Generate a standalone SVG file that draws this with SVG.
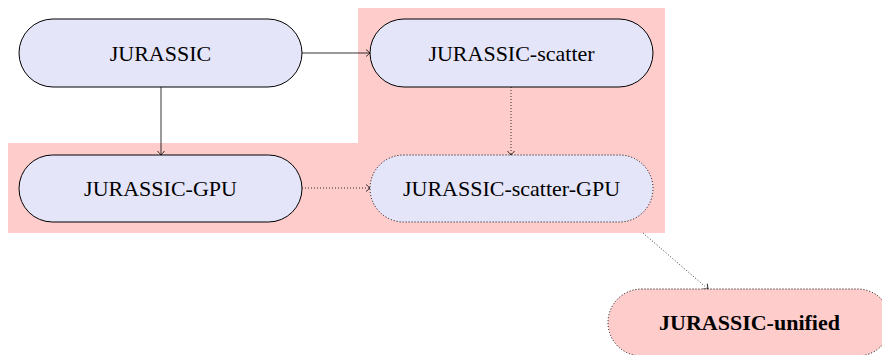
<svg xmlns="http://www.w3.org/2000/svg" width="882" height="355" viewBox="0 0 882 355">
<defs>
<style>
.node{fill:#e5e5fa;stroke:#000;stroke-width:1}
.dot{stroke-dasharray:1 2}
.lbl{font-family:"Liberation Serif","Times New Roman",serif;font-size:22px;text-anchor:middle;fill:#000}
.edge{fill:none;stroke:#000;stroke-width:0.8}
</style>
<marker id="to" viewBox="-5 -5 10 10" markerWidth="10" markerHeight="10" refX="0" refY="0" orient="auto" markerUnits="userSpaceOnUse">
<path d="M-4,-3.5 Q-1,-1 0,0 Q-1,1 -4,3.5" fill="none" stroke="#000" stroke-width="0.8"/>
</marker>
</defs>
<g id="background">
<path d="M358,8 H665 V233 H8 V143 H358 Z" fill="#ffcccc"/>
</g>
<g id="connectors">
<line class="edge" x1="302" y1="53" x2="370" y2="53" marker-end="url(#to)"/>
<line class="edge" x1="161" y1="87" x2="161" y2="155" marker-end="url(#to)"/>
<line class="edge dot" x1="511" y1="87" x2="511" y2="155" marker-end="url(#to)"/>
<line class="edge dot" x1="302" y1="188" x2="370" y2="188" marker-end="url(#to)"/>
<line class="edge dot" x1="643" y1="233" x2="708" y2="289" marker-end="url(#to)"/>
</g>
<g id="n-jurassic">
<rect class="node" x="19" y="19" width="283" height="68" rx="34" ry="34"/>
<text class="lbl" x="160.5" y="61">JURASSIC</text>
</g>
<g id="n-scatter">
<rect class="node" x="370" y="19" width="283" height="68" rx="34" ry="34"/>
<text class="lbl" x="511.5" y="61">JURASSIC-scatter</text>
</g>
<g id="n-gpu">
<rect class="node" x="19" y="155" width="283" height="67" rx="33.5" ry="33.5"/>
<text class="lbl" x="160.5" y="196">JURASSIC-GPU</text>
</g>
<g id="n-scatter-gpu">
<rect class="node dot" x="370" y="155" width="283" height="67" rx="33.5" ry="33.5"/>
<text class="lbl" x="511.5" y="196">JURASSIC-scatter-GPU</text>
</g>
<g id="n-unified">
<rect class="node dot" x="608" y="289" width="283" height="67" rx="33.5" ry="33.5" style="fill:#ffcccc"/>
<text class="lbl" x="749.5" y="330" font-weight="bold">JURASSIC-unified</text>
</g>
</svg>
